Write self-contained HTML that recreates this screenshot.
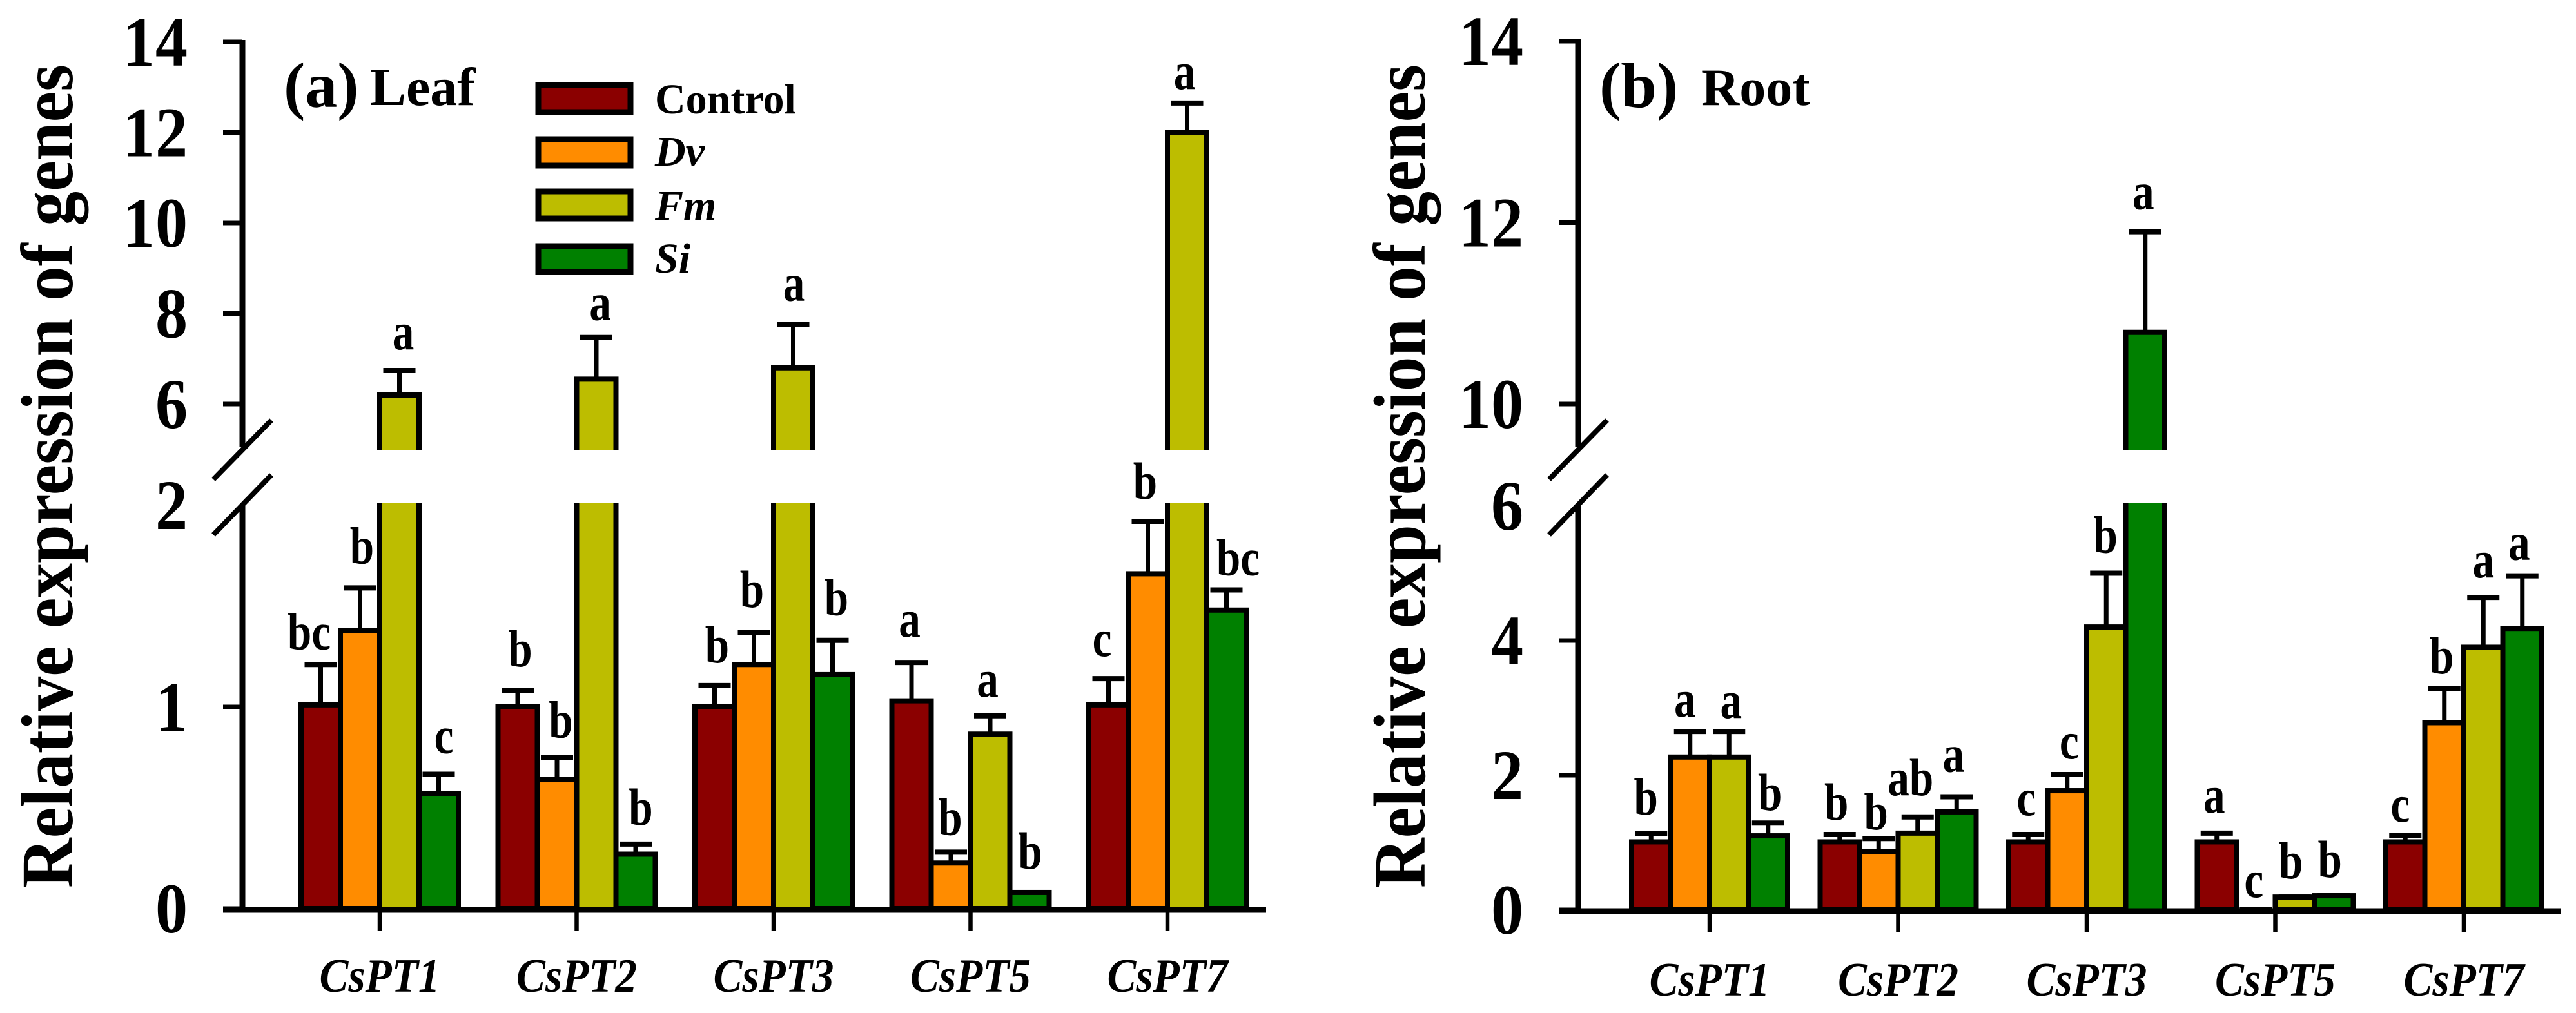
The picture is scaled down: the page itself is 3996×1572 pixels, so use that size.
<!DOCTYPE html>
<html lang="en">
<head>
<meta charset="utf-8">
<title>Relative expression of CsPT genes in leaf and root</title>
<style>
html,body{margin:0;padding:0;background:#fff;}
svg{display:block;}
text{font-family:"Liberation Serif",serif;font-weight:bold;fill:#000;}
</style>
</head>
<body>
<svg id="chart" xmlns="http://www.w3.org/2000/svg" width="3996" height="1572" viewBox="0 0 3996 1572">
  <rect x="0" y="0" width="3996" height="1572" fill="#ffffff"/>
  <g id="panel-a"></g>
  <g id="panel-b"></g>
  <g id="legend">
    <rect x="835" y="132" width="143" height="42" fill="#8b0000" stroke="#000" stroke-width="9"/>
    <rect x="835" y="216" width="143" height="41" fill="#ff8c00" stroke="#000" stroke-width="9"/>
    <rect x="835" y="297" width="143" height="42" fill="#bdbd00" stroke="#000" stroke-width="9"/>
    <rect x="835" y="382" width="143" height="40" fill="#008000" stroke="#000" stroke-width="9"/>
    <text x="1016" y="176" font-size="66">Control</text>
    <text x="1016" y="257" font-size="66" font-style="italic">Dv</text>
    <text x="1016" y="341" font-size="66" font-style="italic">Fm</text>
    <text x="1016" y="423" font-size="66" font-style="italic">Si</text>
  </g>
</svg>
<script>
// ---- shared categories and series ----
const categories = ['CsPT1', 'CsPT2', 'CsPT3', 'CsPT5', 'CsPT7'];
const seriesNames = ['Control', 'Dv', 'Fm', 'Si'];

// ---- leaf values ----
const leafControl = [1.01, 1.00, 1.00, 1.03, 1.01];
const leafDv = [1.38, 0.64, 1.21, 0.226, 1.66];
const leafFm = [6.2, 6.55, 6.8, 0.865, 12.0];
const leafSi = [0.57, 0.27, 1.16, 0.08, 1.48];
const leafControlErr = [1.21, 1.08, 1.106, 1.22, 1.14];
const leafDvErr = [1.59, 0.75, 1.37, 0.28, 1.92];
const leafFmErr = [6.74, 7.47, 7.76, 0.956, 12.65];
const leafSiErr = [0.666, 0.32, 1.33, 0.08, 1.58];
const leafControlLetters = ['bc', 'b', 'b', 'a', 'c'];
const leafDvLetters = ['b', 'b', 'b', 'b', 'b'];
const leafFmLetters = ['a', 'a', 'a', 'a', 'a'];
const leafSiLetters = ['c', 'b', 'b', 'b', 'bc'];
const leafLowerTicks = [0, 1];
const leafLowerLabels = [0, 1, 2];
const leafUpperTicks = [6, 8, 10, 12, 14];

// ---- root values ----
const rootControl = [1.01, 1.01, 1.01, 1.01, 1.01];
const rootDv = [2.27, 0.87, 1.77, 0.01, 2.78];
const rootFm = [2.27, 1.14, 4.2, 0.19, 3.9];
const rootSi = [1.10, 1.455, 10.79, 0.21, 4.18];
const rootControlErr = [1.13, 1.12, 1.12, 1.14, 1.11];
const rootDvErr = [2.65, 1.06, 2.01, 0.01, 3.29];
const rootFmErr = [2.65, 1.38, 5.0, 0.19, 4.64];
const rootSiErr = [1.29, 1.68, 11.9, 0.21, 4.96];
const rootControlLetters = ['b', 'b', 'c', 'a', 'c'];
const rootDvLetters = ['a', 'b', 'c', 'c', 'b'];
const rootFmLetters = ['a', 'ab', 'b', 'b', 'a'];
const rootSiLetters = ['b', 'a', 'a', 'b', 'a'];
const rootLowerTicks = [0, 2, 4];
const rootLowerLabels = [0, 2, 4, 6];
const rootUpperTicks = [10, 12, 14];

// ---- layout only (significance-letter nudges in pixels, one row per series) ----
const leafLetterGap = [[24,38,36,40,35],[38,31,39,27,35],[33,27,37,30,22],[33,30,39,37,23]];
const leafLetterDx = [[-18,4,4,-3,-10],[3,6,-3,-1,-4],[6,6,1,-4,-4],[8,8,6,1,18]];
const rootLetterGap = [[30,23,30,32,21],[23,14,25,19,23],[21,34,32,29,31],[20,39,35,29,25]];
const rootLetterDx = [[-8,-5,-3,-4,-8],[-8,-4,3,-3,-4],[3,-11,-1,-6,0],[3,-5,-3,-6,-5]];

const SVG_NS = 'http://www.w3.org/2000/svg';
const seriesFill = ['#8b0000', '#ff8c00', '#bdbd00', '#008000'];

function make(tag, attrs, parent) {
  const el = document.createElementNS(SVG_NS, tag);
  for (const k in attrs) el.setAttribute(k, attrs[k]);
  parent.appendChild(el);
  return el;
}

function drawText(parent, x, y, str, size, sx, anchor, italic) {
  const el = make('text', {
    transform: 'translate(' + x + ' ' + y + ') scale(' + sx + ' 1)',
    'font-size': size,
    'text-anchor': anchor
  }, parent);
  if (italic) el.setAttribute('font-style', 'italic');
  el.textContent = str;
  return el;
}

function drawPanel(cfg) {
  const root = document.getElementById(cfg.id);
  const lowerMax = cfg.lowerMax;
  const lowerScale = (cfg.y0 - cfg.yLowerMax) / lowerMax;
  const upperScale = (cfg.yUpperRef - cfg.yUpperTop) / (cfg.upperTop - cfg.upperRef);

  // axis functions
  function yAxis(v) {
    if (v <= lowerMax) return cfg.y0 - v * lowerScale;
    return cfg.yUpperRef - (v - cfg.upperRef) * upperScale;
  }
  function groupX(i) { return cfg.x0 + i * cfg.groupStep; }
  function barLeft(i, s) { return groupX(i) + (s - 2) * cfg.barWidth; }

  // bars
  cfg.values.forEach(function (vals, s) {
    vals.forEach(function (v, i) {
      const g = make('g', {}, root);
      
      
      const x = barLeft(i, s), w = cfg.barWidth, top = yAxis(v), err = yAxis(cfg.errors[s][i]);
      const cx = x + w / 2;
      // error bar
      make('line', { x1: cx, x2: cx, y1: top, y2: err, stroke: '#000', 'stroke-width': 7 }, g);
      make('line', { x1: cx - 25, x2: cx + 25, y1: err, y2: err, stroke: '#000', 'stroke-width': 8 }, g);
      if (v > lowerMax) {
        const upperBottom = cfg.yGapBottom, lowerTop = cfg.yGapTop;
        make('rect', { x: x, y: lowerTop, width: w, height: cfg.y0 - lowerTop, fill: seriesFill[s] }, g);
        make('rect', { x: x, y: top, width: w, height: upperBottom - top, fill: seriesFill[s] }, g);
        make('path', { d: 'M' + x + ' ' + upperBottom + 'V' + top + 'H' + (x + w) + 'V' + upperBottom, fill: 'none', stroke: '#000', 'stroke-width': 8 }, g);
        make('path', { d: 'M' + x + ' ' + lowerTop + 'V' + cfg.y0 + 'M' + (x + w) + ' ' + lowerTop + 'V' + cfg.y0, fill: 'none', stroke: '#000', 'stroke-width': 8 }, g);
      } else if (v > 0.02) {
        make('rect', { x: x, y: top, width: w, height: cfg.y0 - top, fill: seriesFill[s], stroke: '#000', 'stroke-width': 8 }, g);
      }
    });
  });

  // significance letters
  cfg.letters.forEach(function (row, s) {
    row.forEach(function (str, i) {
      const x = barLeft(i, s) + cfg.barWidth / 2 + cfg.letterDx[s][i];
      const y = yAxis(cfg.errors[s][i]) - cfg.letterGap[s][i];
      const t = drawText(root, x, y, str, 82, 0.82, 'middle', false);
      
      
    });
  });

  // y axis
  const axisUpper = make('line', { x1: cfg.axisX, x2: cfg.axisX, y1: yAxis(cfg.upperTop) - 3, y2: 694, stroke: '#000', 'stroke-width': 9 }, root);
  
  
  const axisLower = make('line', { x1: cfg.axisX, x2: cfg.axisX, y1: 783, y2: cfg.y0, stroke: '#000', 'stroke-width': 9 }, root);
  
  

  // break slashes
  [[652, 744], [737, 830]].forEach(function (p) {
    const sl = make('line', { x1: cfg.axisX + 45, y1: p[0], x2: cfg.axisX - 45, y2: p[1], stroke: '#000', 'stroke-width': 8 }, root);
    
    
  });

  // y ticks
  cfg.lowerTicks.concat(cfg.upperTicks).forEach(function (v) {
    const y = yAxis(v);
    const tick = make('line', { x1: cfg.axisX - 30, x2: cfg.axisX, y1: y, y2: y, stroke: '#000', 'stroke-width': 7 }, root);
    
    
  });
  cfg.lowerLabels.concat(cfg.upperTicks).forEach(function (v) {
    const lab = drawText(root, cfg.tickLabelX, yAxis(v) + 37, String(v), 110, 0.91, 'end', false);
    
    
  });

  // x axis
  const xAxis = make('line', { x1: cfg.axisX - 30, x2: cfg.xAxisEnd, y1: cfg.y0 + 2, y2: cfg.y0 + 2, stroke: '#000', 'stroke-width': 9 }, root);
  
  
  categories.forEach(function (c, i) {
    const x = groupX(i);
    const tick = make('line', { x1: x, x2: x, y1: cfg.y0, y2: cfg.y0 + 34, stroke: '#000', 'stroke-width': 6.5 }, root);
    
    
    const lab = drawText(root, x, cfg.xLabelY, c, 74, 0.91, 'middle', true);
    
    
  });

  // y title
  const title = make('text', {
    transform: 'translate(' + cfg.titleX + ' 1378) rotate(-90)',
    'font-size': 114,
    textLength: 1278,
    lengthAdjust: 'spacingAndGlyphs'
  }, root);
  
  
  title.textContent = 'Relative expression of genes';

  // panel labels
  const pl = make('text', { x: cfg.panelLabelX, y: 166, 'font-size': 100 }, root);
  
  
  pl.textContent = cfg.panelLabel;
  const tl = make('text', { x: cfg.tissueX, y: 163, 'font-size': cfg.tissueSize }, root);
  
  
  tl.textContent = cfg.tissue;
}

drawPanel({
  id: 'panel-a', axisX: 376, x0: 589, groupStep: 305.5, barWidth: 61,
  y0: 1410, yLowerMax: 784, lowerMax: 2,
  yUpperRef: 627, upperRef: 6, yUpperTop: 65, upperTop: 14,
  yGapBottom: 699, yGapTop: 780, tickLabelX: 291, xAxisEnd: 1964, xLabelY: 1539,
  titleX: 112, panelLabel: '(a)', panelLabelX: 440, tissue: 'Leaf', tissueX: 574, tissueSize: 84,
  values: [leafControl, leafDv, leafFm, leafSi],
  errors: [leafControlErr, leafDvErr, leafFmErr, leafSiErr],
  letters: [leafControlLetters, leafDvLetters, leafFmLetters, leafSiLetters],
  letterGap: leafLetterGap, letterDx: leafLetterDx,
  lowerTicks: leafLowerTicks, lowerLabels: leafLowerLabels, upperTicks: leafUpperTicks
});

drawPanel({
  id: 'panel-b', axisX: 2448, x0: 2652, groupStep: 292.5, barWidth: 60.5,
  y0: 1412, yLowerMax: 785, lowerMax: 6,
  yUpperRef: 627, upperRef: 10, yUpperTop: 64, upperTop: 14,
  yGapBottom: 699, yGapTop: 780, tickLabelX: 2363, xAxisEnd: 3973, xLabelY: 1545,
  titleX: 2210, panelLabel: '(b)', panelLabelX: 2481, tissue: 'Root', tissueX: 2639, tissueSize: 82,
  values: [rootControl, rootDv, rootFm, rootSi],
  errors: [rootControlErr, rootDvErr, rootFmErr, rootSiErr],
  letters: [rootControlLetters, rootDvLetters, rootFmLetters, rootSiLetters],
  letterGap: rootLetterGap, letterDx: rootLetterDx,
  lowerTicks: rootLowerTicks, lowerLabels: rootLowerLabels, upperTicks: rootUpperTicks
});
</script>
</body>
</html>
